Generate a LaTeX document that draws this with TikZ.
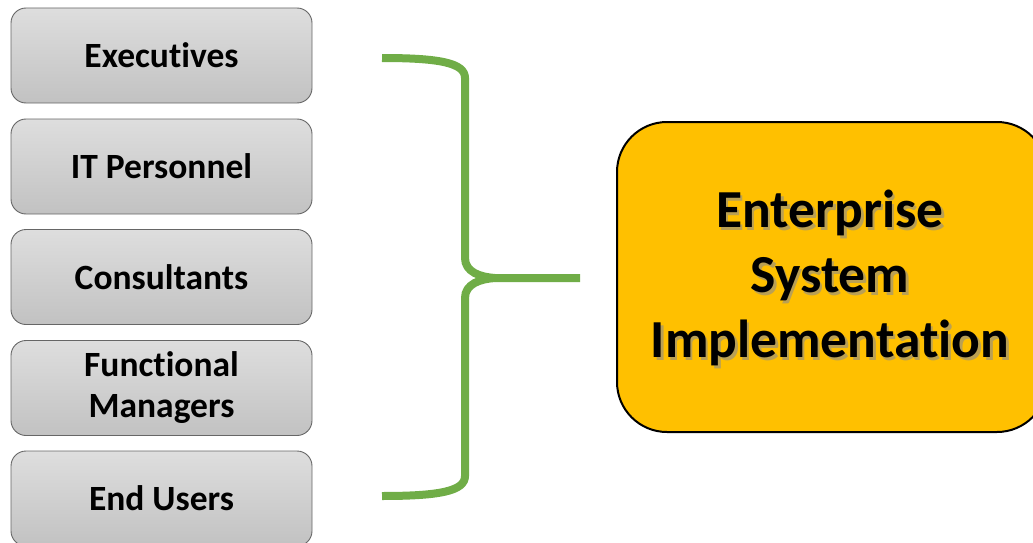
\documentclass[tikz,border=0pt]{standalone}
\usepackage{fontspec}
\setmainfont[Ligatures={NoCommon,NoContextual,NoRare},Contextuals={NoAlternate}]{Carlito}
\begin{document}
\begin{tikzpicture}[x=1pt,y=-1pt,
  rolebox/.style={draw=black!60, line width=0.9pt, rounded corners=15pt,
    top color=black!13, bottom color=black!24,
    minimum width=301pt, minimum height=95pt, align=center,
    font=\fontsize{35.5}{42}\selectfont\bfseries, inner sep=0pt},
  bigbox/.style={draw=black, line width=2pt, rounded corners=50pt,
    fill={rgb,255:red,255;green,192;blue,0},
    minimum width=430pt, minimum height=310pt},
  bigtext/.style={align=center, font=\fontsize{53.5}{65}\selectfont\bfseries},
  bracestroke/.style={draw={rgb,255:red,112;green,173;blue,71}, line width=8pt}
]
\useasboundingbox (0,0) rectangle (1033,543);
\clip (0,0) rectangle (1033,543);
\node[rolebox] (exec) at (161.5,55.5) {Executives};
\node[rolebox] (it) at (161.5,166.5) {IT Personnel};
\node[rolebox] (cons) at (161.5,277) {Consultants};
\node[rolebox] (func) at (161.5,388) {Functional\\[-1pt]Managers};
\node[rolebox] (end) at (161.5,498.5) {End Users};

\node[bigbox] (esi) at (832,277) {};
\node[bigtext, text=black!45, opacity=0.6] (esishadow) at (832.5,280.5) {Enterprise\\System\\Implementation};
\node[bigtext] (esitext) at (830,278) {Enterprise\\System\\Implementation};

\coordinate (btop) at (382,58);
\coordinate (bbot) at (382,496);
\coordinate (btip) at (580,278);
\draw[bracestroke] (btop) .. controls (440,58) and (465,63) .. (465,78) -- (465,258)
  .. controls (465,272) and (480,277) .. (495,278) -- (btip);
\draw[bracestroke] (bbot) .. controls (440,496) and (465,491) .. (465,476) -- (465,298)
  .. controls (465,284) and (480,279) .. (495,278);
\end{tikzpicture}
\end{document}
